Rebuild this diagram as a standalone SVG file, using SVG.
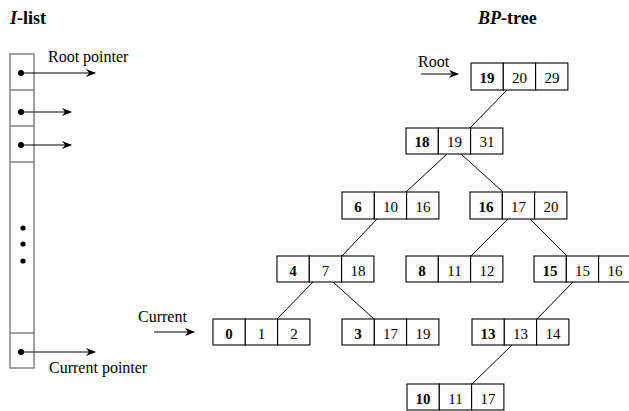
<svg xmlns="http://www.w3.org/2000/svg" width="629" height="411" viewBox="0 0 629 411">
<style>
text{font-family:"Liberation Serif","Times New Roman",serif;fill:#000}
.t{font-size:18px;font-weight:bold}
.lb{font-size:16px}
.k{font-size:15px;text-anchor:middle}
.b{font-weight:bold}
.cell{fill:#fff;stroke:#000;stroke-width:1.1}
.col{fill:none;stroke:#707070;stroke-width:1.3}
.edge{stroke:#000;stroke-width:1;fill:none}
.arr{stroke:#000;stroke-width:1.2;fill:none;marker-end:url(#ah)}
</style>
<defs>
<marker id="ah" viewBox="0 0 10 8" refX="9" refY="4" markerWidth="10" markerHeight="8" markerUnits="userSpaceOnUse" orient="auto">
<path d="M0,0 L10,4 L0,8 L3,4 Z" fill="#000"/>
</marker>
</defs>
<rect width="629" height="411" fill="#fff"/>
<text class="t" x="10" y="24"><tspan font-style="italic">I</tspan>-list</text>
<text class="t" x="478" y="24"><tspan font-style="italic">BP</tspan>-tree</text>
<g id="ilist">
<rect class="col" x="10" y="54" width="24" height="314"/>
<line class="col" x1="10" y1="90" x2="34" y2="90"/>
<line class="col" x1="10" y1="126" x2="34" y2="126"/>
<line class="col" x1="10" y1="162" x2="34" y2="162"/>
<line class="col" x1="10" y1="333" x2="34" y2="333"/>
<circle cx="21" cy="73" r="3"/>
<circle cx="21" cy="112" r="3"/>
<circle cx="21" cy="145" r="3"/>
<circle cx="21" cy="352" r="3"/>
<circle cx="23" cy="228" r="2.6"/>
<circle cx="23" cy="244" r="2.6"/>
<circle cx="23" cy="261" r="2.6"/>
<line class="arr" x1="21" y1="73" x2="95" y2="73"/>
<line class="arr" x1="21" y1="112" x2="71" y2="112"/>
<line class="arr" x1="21" y1="145" x2="71" y2="145"/>
<line class="arr" x1="21" y1="352" x2="95" y2="352"/>
<text class="lb" x="48" y="62">Root pointer</text>
<text class="lb" x="49" y="373">Current pointer</text>
</g>
<g id="labels">
<text class="lb" x="418" y="67">Root</text>
<line class="arr" x1="421" y1="74" x2="458" y2="74"/>
<text class="lb" x="138" y="322">Current</text>
<line class="arr" x1="154" y1="332" x2="194" y2="332"/>
</g>
<g id="connectors">
<line class="edge" x1="507" y1="90" x2="470" y2="128"/>
<line class="edge" x1="447" y1="154" x2="406" y2="192"/>
<line class="edge" x1="461" y1="154" x2="503" y2="192"/>
<line class="edge" x1="377" y1="219" x2="342" y2="256"/>
<line class="edge" x1="508" y1="219" x2="471" y2="256"/>
<line class="edge" x1="530" y1="219" x2="567" y2="256"/>
<line class="edge" x1="313" y1="282" x2="277" y2="319"/>
<line class="edge" x1="333" y1="282" x2="374" y2="319"/>
<line class="edge" x1="573" y1="282" x2="537" y2="319"/>
<line class="edge" x1="512" y1="345" x2="472" y2="384"/>
</g>
<g id="n19">
<rect class="cell" x="471" y="63" width="32.3" height="27"/><rect class="cell" x="503.3" y="63" width="32.3" height="27"/><rect class="cell" x="535.6" y="63" width="32.3" height="27"/>
<text class="k b" x="487" y="83">19</text><text class="k" x="519.5" y="83">20</text><text class="k" x="552" y="83">29</text>
</g>
<g id="n18">
<rect class="cell" x="406" y="128" width="32.3" height="26"/><rect class="cell" x="438.3" y="128" width="32.3" height="26"/><rect class="cell" x="470.6" y="128" width="32.3" height="26"/>
<text class="k b" x="422" y="147">18</text><text class="k" x="454.5" y="147">19</text><text class="k" x="487" y="147">31</text>
</g>
<g id="n6">
<rect class="cell" x="342" y="192" width="32.3" height="27"/><rect class="cell" x="374.3" y="192" width="32.3" height="27"/><rect class="cell" x="406.6" y="192" width="32.3" height="27"/>
<text class="k b" x="358" y="212">6</text><text class="k" x="390.5" y="212">10</text><text class="k" x="423" y="212">16</text>
</g>
<g id="n16">
<rect class="cell" x="470" y="192" width="32.3" height="27"/><rect class="cell" x="502.3" y="192" width="32.3" height="27"/><rect class="cell" x="534.6" y="192" width="32.3" height="27"/>
<text class="k b" x="486" y="212">16</text><text class="k" x="518.5" y="212">17</text><text class="k" x="551" y="212">20</text>
</g>
<g id="n4">
<rect class="cell" x="277" y="256" width="32.3" height="26"/><rect class="cell" x="309.3" y="256" width="32.3" height="26"/><rect class="cell" x="341.6" y="256" width="32.3" height="26"/>
<text class="k b" x="293" y="276">4</text><text class="k" x="325.5" y="276">7</text><text class="k" x="358" y="276">18</text>
</g>
<g id="n8">
<rect class="cell" x="406" y="256" width="32.3" height="26"/><rect class="cell" x="438.3" y="256" width="32.3" height="26"/><rect class="cell" x="470.6" y="256" width="32.3" height="26"/>
<text class="k b" x="422" y="276">8</text><text class="k" x="454.5" y="276">11</text><text class="k" x="487" y="276">12</text>
</g>
<g id="n15">
<rect class="cell" x="534" y="256" width="32.3" height="26"/><rect class="cell" x="566.3" y="256" width="32.3" height="26"/><rect class="cell" x="598.6" y="256" width="32.3" height="26"/>
<text class="k b" x="550" y="276">15</text><text class="k" x="582.5" y="276">15</text><text class="k" x="615" y="276">16</text>
</g>
<g id="n0">
<rect class="cell" x="213" y="319" width="32.3" height="26"/><rect class="cell" x="245.3" y="319" width="32.3" height="26"/><rect class="cell" x="277.6" y="319" width="32.3" height="26"/>
<text class="k b" x="229" y="339">0</text><text class="k" x="261.5" y="339">1</text><text class="k" x="294" y="339">2</text>
</g>
<g id="n3">
<rect class="cell" x="342" y="319" width="32.3" height="26"/><rect class="cell" x="374.3" y="319" width="32.3" height="26"/><rect class="cell" x="406.6" y="319" width="32.3" height="26"/>
<text class="k b" x="358" y="339">3</text><text class="k" x="390.5" y="339">17</text><text class="k" x="423" y="339">19</text>
</g>
<g id="n13">
<rect class="cell" x="472" y="319" width="32.3" height="26"/><rect class="cell" x="504.3" y="319" width="32.3" height="26"/><rect class="cell" x="536.6" y="319" width="32.3" height="26"/>
<text class="k b" x="488" y="339">13</text><text class="k" x="520.5" y="339">13</text><text class="k" x="553" y="339">14</text>
</g>
<g id="n10">
<rect class="cell" x="407" y="384" width="32.3" height="26"/><rect class="cell" x="439.3" y="384" width="32.3" height="26"/><rect class="cell" x="471.6" y="384" width="32.3" height="26"/>
<text class="k b" x="423" y="404">10</text><text class="k" x="455.5" y="404">11</text><text class="k" x="488" y="404">17</text>
</g>
</svg>
